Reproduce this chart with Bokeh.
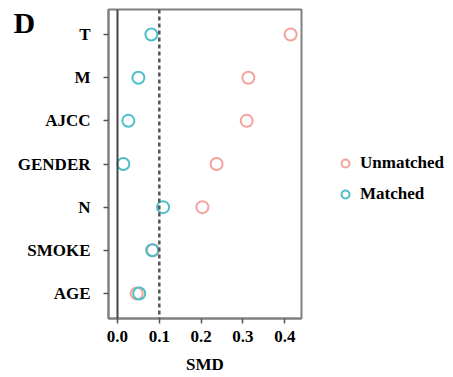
from bokeh.plotting import figure
from bokeh.models import ColumnDataSource, FixedTicker, Span, Label, Legend, LegendItem, Range1d
from bokeh.layouts import row
from bokeh.embed import file_html
from bokeh.resources import INLINE

variables = ["AGE", "SMOKE", "N", "GENDER", "AJCC", "M", "T"]
unmatched = [0.046, 0.085, 0.203, 0.237, 0.309, 0.313, 0.414]
matched = [0.052, 0.083, 0.109, 0.014, 0.026, 0.050, 0.081]
x_ticks = [0.0, 0.1, 0.2, 0.3, 0.4]
x_tick_labels = ["0.0", "0.1", "0.2", "0.3", "0.4"]
series_names = ["Unmatched", "Matched"]
series_fields = ["unmatched", "matched"]
series_colors = ["#F4A29C", "#4CBFC8"]

pos = list(range(1, len(variables) + 1))
src = ColumnDataSource(dict(y=pos, unmatched=unmatched, matched=matched, var=variables))

FONT = "Liberation Serif"
p = figure(width=331, height=377, output_backend="svg", toolbar_location=None,
           x_range=Range1d(-0.0215, 0.440), y_range=Range1d(0.42, 7.58),
           min_border_left=108, min_border_right=30, min_border_top=9, min_border_bottom=59)
p.background_fill_color = "white"
p.border_fill_color = "white"
p.grid.visible = False
p.outline_line_color = "#808080"
p.outline_line_width = 2

p.add_layout(Span(location=0, dimension="height", line_color="#444444", line_width=2))
p.add_layout(Span(location=0.1, dimension="height", line_color="#555555", line_width=2.5, line_dash="4 3"))

for f, col in zip(series_fields, series_colors):
    p.scatter(f, "y", source=src, marker="circle", size=12, fill_color=None,
              line_color=col, line_width=2)

p.yaxis.ticker = FixedTicker(ticks=pos)
p.yaxis.major_label_overrides = {i: v for i, v in zip(pos, variables)}
p.xaxis.ticker = FixedTicker(ticks=x_ticks)
p.xaxis.major_label_overrides = {t: l for t, l in zip(x_ticks, x_tick_labels)}
for ax in (p.xaxis, p.yaxis):
    ax.axis_line_color = "#808080"
    ax.axis_line_width = 2
    ax.major_tick_line_color = "#555555"
    ax.major_tick_line_width = 1.5
    ax.major_tick_out = 5
    ax.major_tick_in = 0
    ax.minor_tick_line_color = None
    ax.major_label_text_font = FONT
    ax.major_label_text_font_style = "bold"
    ax.major_label_text_font_size = "17px"
    ax.major_label_text_color = "black"
p.yaxis.major_label_standoff = 13
p.xaxis.major_label_standoff = 7
p.xaxis.axis_label = "SMD"
p.xaxis.axis_label_text_font = FONT
p.xaxis.axis_label_text_font_style = "bold"
p.xaxis.axis_label_text_font_size = "17px"
p.xaxis.axis_label_text_color = "black"
p.xaxis.axis_label_standoff = 10

# panel letter, drawn from the right side panel (side panels are not clipped to the frame)
p.add_layout(Label(x=-288, y=296, x_units="screen", y_units="screen", text="D",
                   text_font=FONT, text_font_style="bold", text_font_size="30px",
                   text_baseline="alphabetic", text_color="black"), "right")

# legend panel
lg = figure(width=122, height=377, output_backend="svg", toolbar_location=None,
            x_range=Range1d(10, 11), y_range=Range1d(10, 11),
            min_border_left=0, min_border_right=0, min_border_top=0, min_border_bottom=0)
lg.axis.visible = False
lg.grid.visible = False
lg.outline_line_color = None
items = []
for name, f, col in zip(series_names, series_fields, series_colors):
    r = lg.scatter(f, "y", source=src, marker="circle", size=10, fill_color=None,
                   line_color=col, line_width=2)
    items.append(LegendItem(label=name, renderers=[r]))
legend = Legend(items=items, location=(4, 114), margin=0, padding=0, spacing=11,
                glyph_width=20, glyph_height=20, label_height=20, label_standoff=5,
                border_line_color=None, background_fill_color=None,
                label_text_font=FONT, label_text_font_style="bold", label_text_font_size="17px",
                label_text_color="black")
lg.add_layout(legend, "center")

open("out.html", "w").write(file_html(row(p, lg), INLINE))
